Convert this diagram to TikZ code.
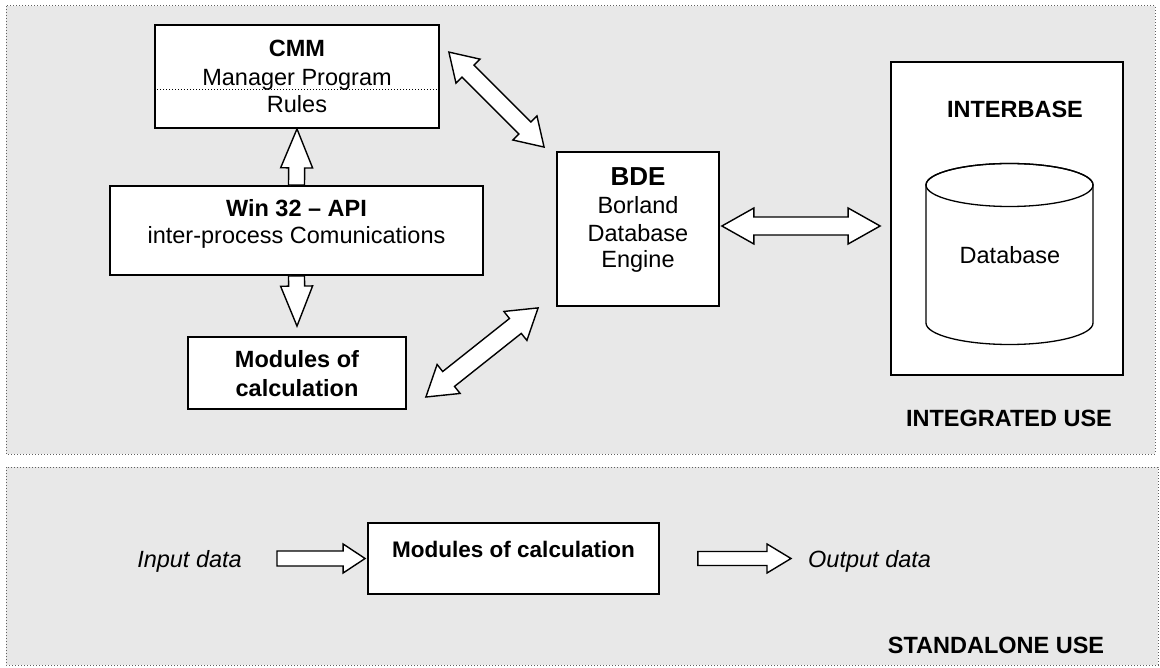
\documentclass[tikz,border=0pt]{standalone}
\usepackage{fontspec}
\setmainfont{Liberation Sans}
\usetikzlibrary{calc}
\definecolor{panelgray}{HTML}{E8E8E8}
\definecolor{dotgray}{HTML}{606060}
\tikzset{
  panel/.style={draw=dotgray, line width=1pt, dotted, fill=panelgray},
  box/.style={draw=black, line width=1.8pt, fill=white, inner sep=0pt},
  blockarrow/.style={draw=black, line width=1.4pt, fill=white, line join=miter},
  lbl/.style={font=\fontsize{23.5}{28}\selectfont, anchor=base, inner sep=0pt},
  blbl/.style={lbl, font=\fontsize{23.5}{28}\selectfont\bfseries},
  ilbl/.style={lbl, font=\fontsize{23.5}{28}\selectfont\itshape},
}
\newcommand\blockgeom[2]{%
  \path let \p1=(#1), \p2=(#2) in \pgfextra{%
    \pgfmathsetmacro\baA{atan2(\y2-\y1,\x2-\x1)}%
    \pgfmathsetmacro\baL{veclen(\x2-\x1,\y2-\y1)}%
    \xdef\baAng{\baA}\xdef\baLen{\baL}};%
}
% from, to, shaft half, head half, head length
\newcommand\blockdouble[5]{%
  \blockgeom{#1}{#2}%
  \draw[blockarrow, shift={(#1)}, rotate=\baAng] (0,0) -- (#5,#4) -- (#5,#3)
    -- ({\baLen-#5},#3) -- ({\baLen-#5},#4) -- (\baLen,0) -- ({\baLen-#5},-#4)
    -- ({\baLen-#5},-#3) -- (#5,-#3) -- (#5,-#4) -- cycle;
}
\newcommand\blocksingle[5]{%
  \blockgeom{#1}{#2}%
  \draw[blockarrow, shift={(#1)}, rotate=\baAng] (0,#3)
    -- ({\baLen-#5},#3) -- ({\baLen-#5},#4) -- (\baLen,0) -- ({\baLen-#5},-#4)
    -- ({\baLen-#5},-#3) -- (0,-#3) -- cycle;
}
\begin{document}
\begin{tikzpicture}[x=1pt, y=-1pt]
\useasboundingbox (0,0) rectangle (1160,668);
% panels
\path[panel] (6,6) rectangle (1155,454);
\path[panel] (6,467) rectangle (1158,665);

% boxes
\node[box, minimum width=284, minimum height=103] (cmm) at (297,76.5) {};
\node[box, minimum width=373, minimum height=89] (win) at (296.5,230.5) {};
\node[box, minimum width=218, minimum height=72] (mod) at (297,373) {};
\node[box, minimum width=162, minimum height=154] (bde) at (638,229) {};
\node[box, minimum width=232, minimum height=313] (ib) at (1007,218.5) {};
\node[box, minimum width=291, minimum height=71] (smod) at (513.5,558.5) {};

% dotted separator in CMM
\draw[dotted, line width=1pt] ($(cmm.west)+(0,13.5)$) -- ($(cmm.east)+(0,13.5)$);

% database cylinder
\draw[line width=1.3pt, fill=white] (926,185) -- (926,323)
  arc[start angle=180, end angle=360, x radius=83.5pt, y radius=21.5pt]
  -- (1093,185)
  arc[start angle=0, end angle=180, x radius=83.5pt, y radius=21.5pt] -- cycle;
\draw[line width=1.3pt] (1009.5,185) ellipse [x radius=83.5pt, y radius=21.5pt];

% texts
\node[blbl] (tcmm) at (297,57) {CMM};
\node[lbl] (tmgr) at (297,86) {Manager Program};
\node[lbl] (trul) at (297,113) {Rules};
\node[blbl] (twin) at (296.5,217) {Win 32 – API};
\node[lbl] (tipc) at (296.5,244) {inter-process Comunications};
\node[blbl] (tmod1) at (297,368) {Modules of};
\node[blbl] (tmod2) at (297,397) {calculation};
\node[blbl, font=\fontsize{26}{28}\selectfont\bfseries] (tbde) at (638,186) {BDE};
\node[lbl] (tbor) at (638,214) {Borland};
\node[lbl] (tdbe) at (638,242) {Database};
\node[lbl] (teng) at (638,268) {Engine};
\node[blbl] (tib) at (1015,118) {INTERBASE};
\node[lbl] (tdb) at (1010,264) {Database};
\node[blbl] (tint) at (1009,427) {INTEGRATED USE};
\node[blbl, font=\fontsize{22.5}{28}\selectfont\bfseries] (tsmod) at (513.5,557) {Modules of calculation};
\node[ilbl, anchor=base east] (tin) at (242,567) {Input data};
\node[ilbl, anchor=base west] (tout) at (808,567) {Output data};
\node[blbl] (tsa) at (996,653) {STANDALONE USE};

% connectors
\blocksingle{win.north}{cmm.south}{8}{16}{39}
\blocksingle{win.south}{$(mod.north)+(0,-10)$}{8}{16}{40}
\blockdouble{$(cmm.north east)+(9,28)$}{$(bde.north west)+(-12,-4)$}{8.5}{17}{27}
\blockdouble{$(mod.east)+(19,24)$}{$(bde.south west)+(-18,1)$}{9.5}{18.5}{29}
\blockdouble{$(bde.east)+(2,-3)$}{$(ib.west)+(-10,7.5)$}{9}{18}{32}
\coordinate (inp) at (277,558.5);
\coordinate (outp) at (791,558.5);
\blocksingle{inp}{$(smod.west)+(-2,0)$}{7.5}{14.5}{22}
\blocksingle{$(smod.east)+(38,0)$}{outp}{7}{14.5}{24}
\end{tikzpicture}
\end{document}
